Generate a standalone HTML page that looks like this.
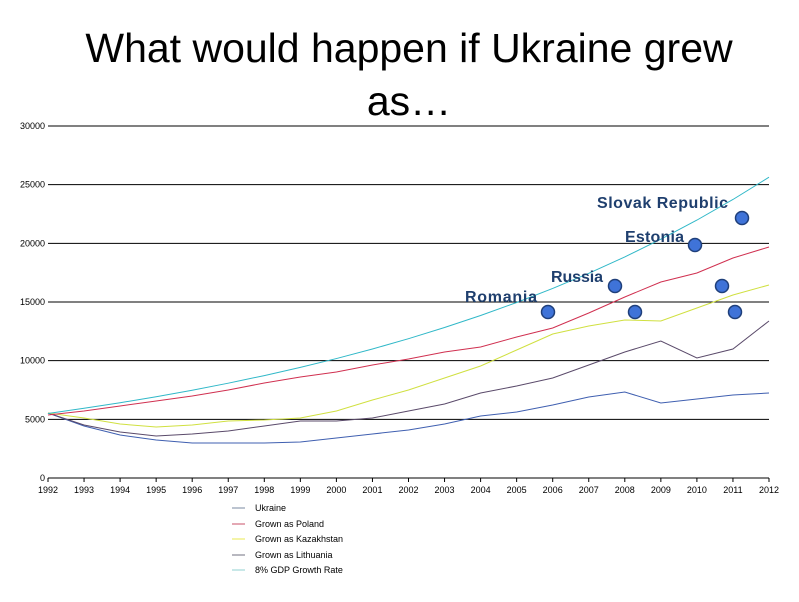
<!DOCTYPE html>
<html><head><meta charset="utf-8"><style>
body{margin:0;background:#fff;width:799px;height:602px;overflow:hidden}
svg{display:block}
</style></head><body>
<svg id="s" width="799" height="602" xmlns="http://www.w3.org/2000/svg" font-family="Liberation Sans, sans-serif">
<text x="409" y="62" font-size="41" text-anchor="middle" fill="#000">What would happen if Ukraine grew</text>
<text x="409" y="115" font-size="41" text-anchor="middle" fill="#000">as…</text>
<g id="grid"></g>
<g id="lines" fill="none" stroke-width="1"></g>
<g fill="#3f73d8" stroke="#1f3f7a" stroke-width="1.5">
<circle cx="548" cy="312" r="6.5"/><circle cx="615" cy="286" r="6.5"/><circle cx="635" cy="312" r="6.5"/>
<circle cx="695" cy="245" r="6.5"/><circle cx="722" cy="286" r="6.5"/><circle cx="735" cy="312" r="6.5"/><circle cx="742" cy="218" r="6.5"/>
</g>
<g font-size="16" font-weight="bold" fill="#1f3f6e">
<text x="465" y="302" textLength="72">Romania</text><text x="551" y="282" textLength="52">Russia</text>
<text x="625" y="242" textLength="59">Estonia</text><text x="597" y="208" textLength="131">Slovak Republic</text>
</g>
<g font-size="9" fill="#000" id="leg">
<line x1="232" y1="508" x2="245" y2="508" stroke="#7a8aa0"/><text x="255" y="511">Ukraine</text>
<line x1="232" y1="524" x2="245" y2="524" stroke="#c8506a"/><text x="255" y="527">Grown as Poland</text>
<line x1="232" y1="539" x2="245" y2="539" stroke="#e8e850"/><text x="255" y="542">Grown as Kazakhstan</text>
<line x1="232" y1="555" x2="245" y2="555" stroke="#707080"/><text x="255" y="558">Grown as Lithuania</text>
<line x1="232" y1="570" x2="245" y2="570" stroke="#90d0d0"/><text x="255" y="573">8% GDP Growth Rate</text>
</g>
</svg>
<script>
var NS="http://www.w3.org/2000/svg",g=document.getElementById('grid'),L=document.getElementById('lines');
function el(p,t,a,txt){var e=document.createElementNS(NS,t);for(var k in a)e.setAttribute(k,a[k]);if(txt!=null)e.textContent=txt;p.appendChild(e);return e;}
function Y(v){return 478-v*352/30000}
function X(i){return 48+36.05*i}
for(var v=0;v<=30000;v+=5000){var y=Y(v);el(g,'line',{x1:48,x2:769,y1:y,y2:y,stroke:'#000','stroke-width':1});el(g,'text',{x:45,y:y+3,'font-size':9,'text-anchor':'end'},v);}
for(var i=0;i<=20;i++){el(g,'line',{x1:X(i),x2:X(i),y1:478,y2:482,stroke:'#000'});el(g,'text',{x:X(i),y:493,'font-size':9,'text-anchor':'middle'},1992+i);}
var series=[
['#3f5fb0',[413,426,435,440,443,443,443,442,438,434,430,424,416,412,405,397,392,403,399,395,393]],
['#5a4a6a',[413,425,432,436,434,431,426,421,421,418,411,404,393,386,378,365,352,341,358,349,321]],
['#d0e040',[413,418,424,427,425,421,420,418,411,400,390,378,366,350,334,326,320,321,308,295,285]],
['#d03050',[415,411,406,401,396,390,383,377,372,365,359,352,347,337,328,313,297,282,273,258,247]]];
var cy=[];for(var i=0;i<=20;i++)cy.push(Y(5500*Math.pow(1.08,i)));series.push(['#30b8c8',cy]);
series.forEach(function(s){el(L,'polyline',{stroke:s[0],points:s[1].map(function(y,i){return X(i)+','+y}).join(' ')});});
</script>
</body></html>
